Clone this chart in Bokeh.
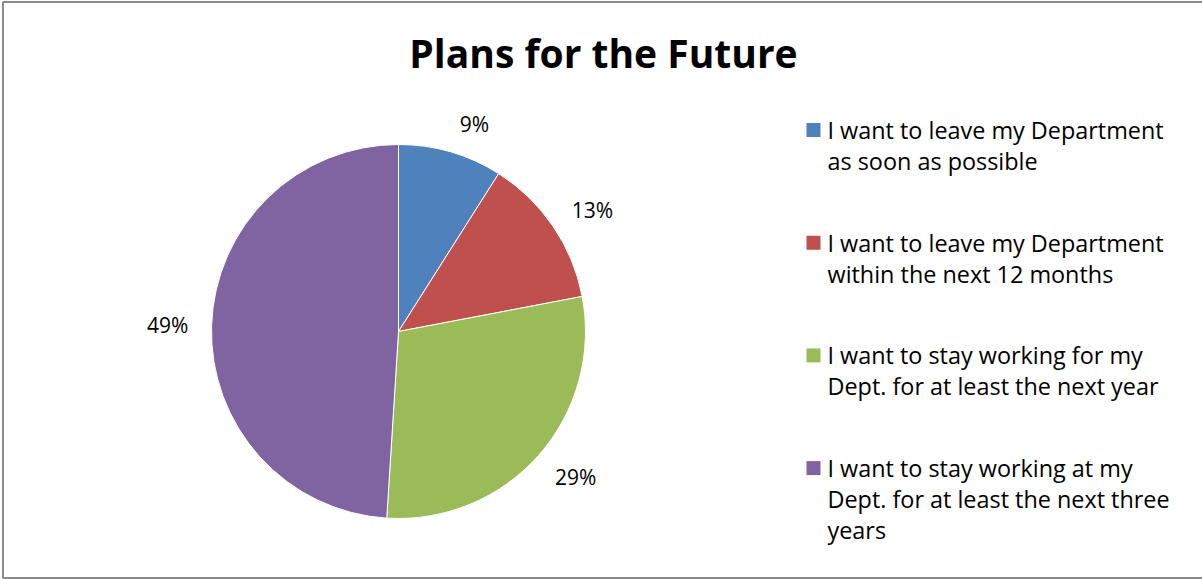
import math
from bokeh.plotting import figure
from bokeh.models import Range1d, ColumnDataSource
from bokeh.core.properties import value
from bokeh.embed import file_html
from bokeh.resources import INLINE

# ---- data ----
categories = [
    "I want to leave my Department\nas soon as possible",
    "I want to leave my Department\nwithin the next 12 months",
    "I want to stay working for my\nDept. for at least the next year",
    "I want to stay working at my\nDept. for at least the next three\nyears",
]
values = [9, 13, 29, 49]
colors = ["#4F81BD", "#C0504D", "#9BBB59", "#8064A2"]
title = "Plans for the Future"

W, H = 1202, 579
FONT = "Open Sans"

p = figure(width=W, height=H, output_backend="svg", toolbar_location=None,
           x_range=Range1d(0, W), y_range=Range1d(0, H), min_border=0)
p.axis.visible = False
p.grid.visible = False
p.outline_line_color = None
p.background_fill_color = "white"
p.border_fill_color = "white"

# border (right edge falls outside the picture)
p.quad(left=[2.5], right=[W + 10], bottom=[H - 577.5], top=[H - 1.5],
       fill_color=None, line_color="#8A8A8A", line_width=2)

# pie
cx, cy, R = 398, H - 331, 187
total = sum(values)
starts, ends, mids = [], [], []
a = math.pi / 2
for v in values:
    sweep = 2 * math.pi * v / total
    starts.append(a - sweep)
    ends.append(a)
    mids.append(a - sweep / 2)
    a -= sweep

src = ColumnDataSource(dict(start=starts, end=ends, color=colors))
p.wedge(x=cx, y=cy, radius=R, start_angle="start", end_angle="end",
        fill_color="color", line_color="white", line_width=1, source=src)

# percentage labels (outside end)
lr = R + 28
lx = [cx + lr * math.cos(m) + 16 * (1 if math.cos(m) >= 0 else -1) for m in mids]
ly = [cy + (lr + 1) * math.sin(m) - (3 if math.sin(m) < -0.3 else 0) for m in mids]
pct = [f"{round(100 * v / total)}%" for v in values]
p.text(x=lx, y=ly, text=pct, text_font=value(FONT), text_font_size="21px",
       text_color="#000000", text_align="center", text_baseline="middle")

# title
p.text(x=[603], y=[H - 52], text=[title], text_font=value(FONT),
       text_font_size="39px", text_font_style="bold", text_color="#000000",
       text_align="center", text_baseline="middle")

# legend
base0 = 129.5
step = 112.7
line_h = 31
sq_x, sq_y, txt_x = 813, [], 827
tx, ty, tt = [], [], []
for i, cat in enumerate(categories):
    b = base0 + i * step
    sq_y.append(H - b)
    for j, line in enumerate(cat.split("\n")):
        tx.append(txt_x)
        ty.append(H - (b + j * line_h))
        tt.append(line)
p.rect(x=[sq_x] * len(categories), y=sq_y, width=14, height=14,
       fill_color=colors, line_color=None)
p.text(x=tx, y=ty, text=tt, text_font=value(FONT), text_font_size="23.4px",
       text_color="#000000", text_align="left", text_baseline="middle")

open("out.html", "w").write(file_html(p, INLINE))
